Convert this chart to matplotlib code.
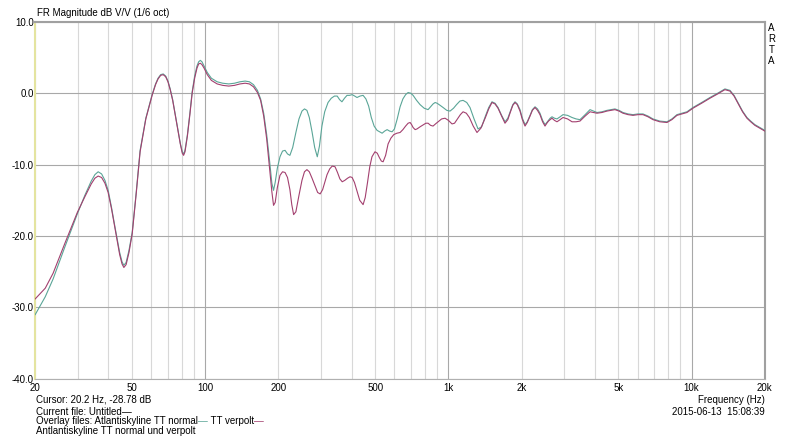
import numpy as np
import matplotlib
matplotlib.use("Agg")
import matplotlib.pyplot as plt

plt.rcParams['font.family'] = ['Liberation Sans', 'DejaVu Sans']

# --- data (Hz, dB) ---
low_f = [20, 22, 23.7, 26.5, 29.8, 32, 34, 35.2, 36.3, 37.5, 38.7, 39.9, 41.2, 42.6, 44.5,
         45.5, 46.3, 47.3, 48.6, 50.1, 52, 54, 57, 60.5, 62.5, 64, 65.6, 67.2, 68.8, 70.3,
         71.8, 73.5, 76, 79, 80.5, 81.5, 82.6, 84.5, 86.5, 88.4, 90.5, 92.5, 94, 95.5, 97,
         99, 102, 106, 112, 118, 125, 132, 139, 146, 152, 158, 164, 169, 174, 179, 184]
normal_low = [-31.0, -28.5, -26.0, -21.5, -16.9, -14.3, -12.3, -11.4, -11.0, -11.3, -12.2,
              -13.6, -16.0, -18.8, -22.3, -23.6, -24.1, -23.7, -22.0, -19.5, -14.0, -8.0,
              -3.5, -0.2, 1.3, 2.1, 2.6, 2.7, 2.4, 1.7, 0.6, -0.9, -3.7, -7.0, -8.2, -8.5,
              -8.0, -5.8, -2.8, 0.2, 2.4, 3.8, 4.4, 4.6, 4.4, 3.8, 2.9, 2.1, 1.6, 1.4, 1.3,
              1.4, 1.6, 1.7, 1.6, 1.2, 0.4, -0.8, -2.8, -5.8, -9.5]
verpolt_low = [-28.8, -27.3, -25.2, -21.0, -16.7, -14.5, -12.7, -11.9, -11.6, -11.8, -12.6,
               -13.9, -16.2, -19.0, -22.6, -23.9, -24.4, -24.0, -22.3, -19.7, -14.2, -8.2,
               -3.6, -0.3, 1.2, 2.0, 2.5, 2.6, 2.3, 1.6, 0.5, -1.0, -3.8, -7.1, -8.4, -8.7,
               -8.2, -6.0, -3.0, 0.0, 2.1, 3.5, 4.1, 4.2, 4.0, 3.5, 2.6, 1.8, 1.3, 1.1, 1.0,
               1.1, 1.3, 1.4, 1.3, 0.9, 0.1, -1.0, -3.2, -6.4, -10.6]

mid_normal_f = [188, 191, 194, 198, 203, 208, 213, 218, 223, 229, 236, 243, 250, 256, 262,
                268, 275, 282, 289, 295, 302, 310, 320, 330, 340, 349, 357, 365, 374, 383,
                392, 402, 412, 421, 433, 446, 458, 470, 482, 495, 509, 521, 534, 547, 560,
                573, 587, 600, 616, 633, 650, 667, 683, 700, 716, 740, 765, 795, 825, 845,
                865, 882, 898, 925, 951, 985, 1016, 1050, 1080, 1115, 1149, 1190, 1227, 1275,
                1324, 1370, 1420, 1465]
mid_normal = [-12.6, -13.6, -12.5, -10.5, -8.9, -8.1, -8.0, -8.5, -8.7, -7.6, -5.5, -3.6,
              -2.5, -2.2, -2.4, -3.4, -5.4, -7.6, -8.9, -7.4, -4.6, -2.6, -1.3, -0.7, -0.4,
              -0.4, -0.9, -1.2, -0.7, -0.3, -0.3, -0.2, -0.4, -0.6, -0.4, -0.3, -0.8, -1.8,
              -3.4, -4.6, -5.2, -5.4, -5.6, -5.3, -5.1, -5.3, -5.4, -5.0, -3.6, -1.9, -0.8,
              -0.2, 0.1, 0.0, -0.3, -1.0, -1.6, -2.1, -2.3, -1.9, -1.5, -1.3, -1.4, -1.7, -2.0,
              -2.4, -2.5, -2.1, -1.6, -1.1, -1.0, -1.3, -2.0, -3.6, -5.0, -4.7, -3.2, -2.0]

mid_verpolt_f = [188, 191, 194, 198, 203, 208, 213, 218, 223, 227, 231, 236, 243, 250, 256,
                 262, 268, 275, 283, 290, 297, 304, 310, 317, 325, 333, 342, 350, 358, 366,
                 375, 385, 394, 402, 411, 420, 432, 446, 455, 465, 475, 485, 499, 510, 520,
                 530, 539, 552, 565, 580, 596, 614, 633, 650, 667, 683, 696, 706, 716, 730,
                 743, 765, 790, 808, 825, 845, 865, 885, 907, 938, 969, 1000, 1035, 1060,
                 1090, 1120, 1149, 1185, 1220, 1265, 1311, 1360, 1420, 1465]
mid_verpolt = [-13.8, -15.7, -15.3, -13.2, -11.5, -11.0, -11.1, -11.8, -13.5, -15.6, -17.0,
               -16.6, -14.3, -12.2, -11.0, -10.7, -11.0, -11.9, -13.0, -13.9, -14.1, -13.5,
               -12.5, -11.4, -10.6, -10.2, -10.3, -11.1, -12.0, -12.4, -12.2, -11.9, -11.7,
               -11.8, -12.5, -13.6, -15.0, -15.6, -14.6, -12.5, -10.3, -8.9, -8.2, -8.4, -9.0,
               -9.5, -9.6, -8.7, -7.1, -6.3, -5.8, -5.6, -5.5, -5.1, -4.6, -4.2, -4.1, -4.4,
               -4.8, -5.1, -5.0, -4.7, -4.4, -4.2, -4.2, -4.5, -4.6, -4.3, -4.0, -3.6, -3.5,
               -3.8, -4.3, -4.2, -3.6, -3.0, -2.6, -2.8, -3.4, -4.6, -5.5, -4.9, -3.4, -2.2]

high_f = [1511, 1555, 1600, 1655, 1709, 1755, 1800, 1840, 1879, 1920, 1970, 2015, 2066,
          2110, 2160, 2215, 2271, 2325, 2380, 2440, 2496, 2540, 2580, 2620, 2667, 2730,
          2796, 2880, 2960, 3090, 3224, 3350, 3476, 3650, 3822, 3950, 4083, 4280, 4488,
          4660, 4840, 5030, 5222, 5480, 5742, 6020, 6310, 6620, 6937, 7400, 7918, 8300,
          8706, 9130, 9570, 10130, 11000, 11900, 12800, 13710, 14380, 14950, 15510,
          16200, 16890, 17500, 18210, 19100, 20000]
high_normal = [-1.2, -1.4, -2.0, -3.1, -4.0, -3.5, -2.5, -1.6, -1.2, -1.5, -2.3, -3.5, -4.4,
               -4.0, -3.2, -2.3, -1.9, -2.2, -2.8, -3.8, -4.4, -4.1, -3.8, -3.5, -3.3, -3.5,
               -3.6, -3.3, -3.0, -3.1, -3.4, -3.6, -3.7, -3.0, -2.3, -2.5, -2.7, -2.6, -2.4,
               -2.3, -2.2, -2.4, -2.7, -2.9, -3.0, -2.9, -2.9, -3.2, -3.6, -3.9, -4.0, -3.6,
               -3.0, -2.8, -2.6, -2.0, -1.3, -0.6, 0.0, 0.6, 0.4, -0.3, -1.3, -2.5, -3.4, -3.9,
               -4.4, -4.8, -5.2]
high_verpolt = [-1.3, -1.5, -2.1, -3.2, -4.2, -3.7, -2.6, -1.7, -1.3, -1.6, -2.5, -3.7, -4.6,
                -4.1, -3.3, -2.4, -2.0, -2.4, -3.0, -4.0, -4.6, -4.2, -3.9, -3.7, -3.5, -3.8,
                -4.0, -3.7, -3.4, -3.6, -4.0, -4.0, -3.9, -3.2, -2.6, -2.7, -2.8, -2.7, -2.5,
                -2.4, -2.3, -2.5, -2.8, -3.0, -3.1, -3.0, -3.0, -3.3, -3.7, -4.0, -4.1, -3.7,
                -3.1, -2.9, -2.7, -2.1, -1.4, -0.7, -0.1, 0.5, 0.3, -0.4, -1.4, -2.6, -3.5,
                -4.0, -4.5, -4.9, -5.3]

normal_f = low_f + mid_normal_f + high_f
normal_db = normal_low + mid_normal + high_normal
verpolt_f = low_f + mid_verpolt_f + high_f
verpolt_db = verpolt_low + mid_verpolt + high_verpolt

x_labels = {20: "20", 50: "50", 100: "100", 200: "200", 500: "500", 1000: "1k",
            2000: "2k", 5000: "5k", 10000: "10k", 20000: "20k"}
y_ticks = [10, 0, -10, -20, -30, -40]

teal = '#5aa597'
magenta = '#a3406f'

fig = plt.figure(figsize=(8, 4.36), dpi=100)
ax = fig.add_axes([0.044, 0.131, 0.912, 0.819])

# grid
minor = [m * d for d in (10, 100, 1000) for m in range(2, 10)] + [20000]
for f in minor:
    ax.axvline(f, color='#d8d8d8', lw=0.8, zorder=0)
for f in (100, 1000, 10000):
    ax.axvline(f, color='#a8a8a8', lw=0.8, zorder=0)
for y in y_ticks:
    ax.axhline(y, color='#a8a8a8', lw=0.8, zorder=0)

ax.plot(normal_f, normal_db, color=teal, lw=0.8, zorder=3)
ax.plot(verpolt_f, verpolt_db, color=magenta, lw=0.8, zorder=4)

ax.set_xscale('log')
ax.set_xlim(20, 20000)
ax.set_ylim(-40, 10)
ax.set_xticks(list(x_labels.keys()))
ax.set_xticklabels(list(x_labels.values()))
ax.minorticks_off()
ax.set_yticks(y_ticks)
ax.set_yticklabels([f"{v:.1f}" for v in y_ticks])
ax.tick_params(length=0, labelsize=7, colors='black', pad=3)
ax.tick_params(axis='y', pad=1)

for s in ('top', 'right'):
    ax.spines[s].set_color('#a0a0a0')
    ax.spines[s].set_linewidth(1.5)
ax.spines['bottom'].set_color('#b0b0b0')
ax.spines['left'].set_color('#e4e4a0')
ax.spines['left'].set_linewidth(1.5)

fs = 7
fig.text(0.046, 0.958, "FR Magnitude dB V/V (1/6 oct)", fontsize=fs, va='bottom')
fig.text(0.9605, 0.948, "A\nR\nT\nA", fontsize=fs, va='top', ha='left', linespacing=1.12)

fig.text(0.045, 0.0826, "Cursor: 20.2 Hz, -28.78 dB", fontsize=fs, va='center')
t1 = fig.text(0.045, 0.055, "Current file: Untitled", fontsize=fs, va='center')
ax.annotate("\u2014", xy=(1, 0), xycoords=t1, fontsize=fs, color='black', va='bottom')
t2 = fig.text(0.045, 0.0344, "Overlay files: Atlantiskyline TT normal", fontsize=fs, va='center')
d2 = ax.annotate("\u2014", xy=(1, 0), xycoords=t2, fontsize=fs, color=teal, va='bottom')
t3 = ax.annotate(" TT verpolt", xy=(1, 0), xycoords=d2, fontsize=fs, va='bottom')
ax.annotate("\u2014", xy=(1, 0), xycoords=t3, fontsize=fs, color=magenta, va='bottom')
fig.text(0.045, 0.0115, "Antlantiskyline TT normal und verpolt", fontsize=fs, va='center')

fig.text(0.956, 0.0826, "Frequency (Hz)", fontsize=fs, ha='right', va='center')
fig.text(0.956, 0.055, "2015-06-13  15:08:39", fontsize=fs, ha='right', va='center')

fig.savefig("out.png", dpi=100)
